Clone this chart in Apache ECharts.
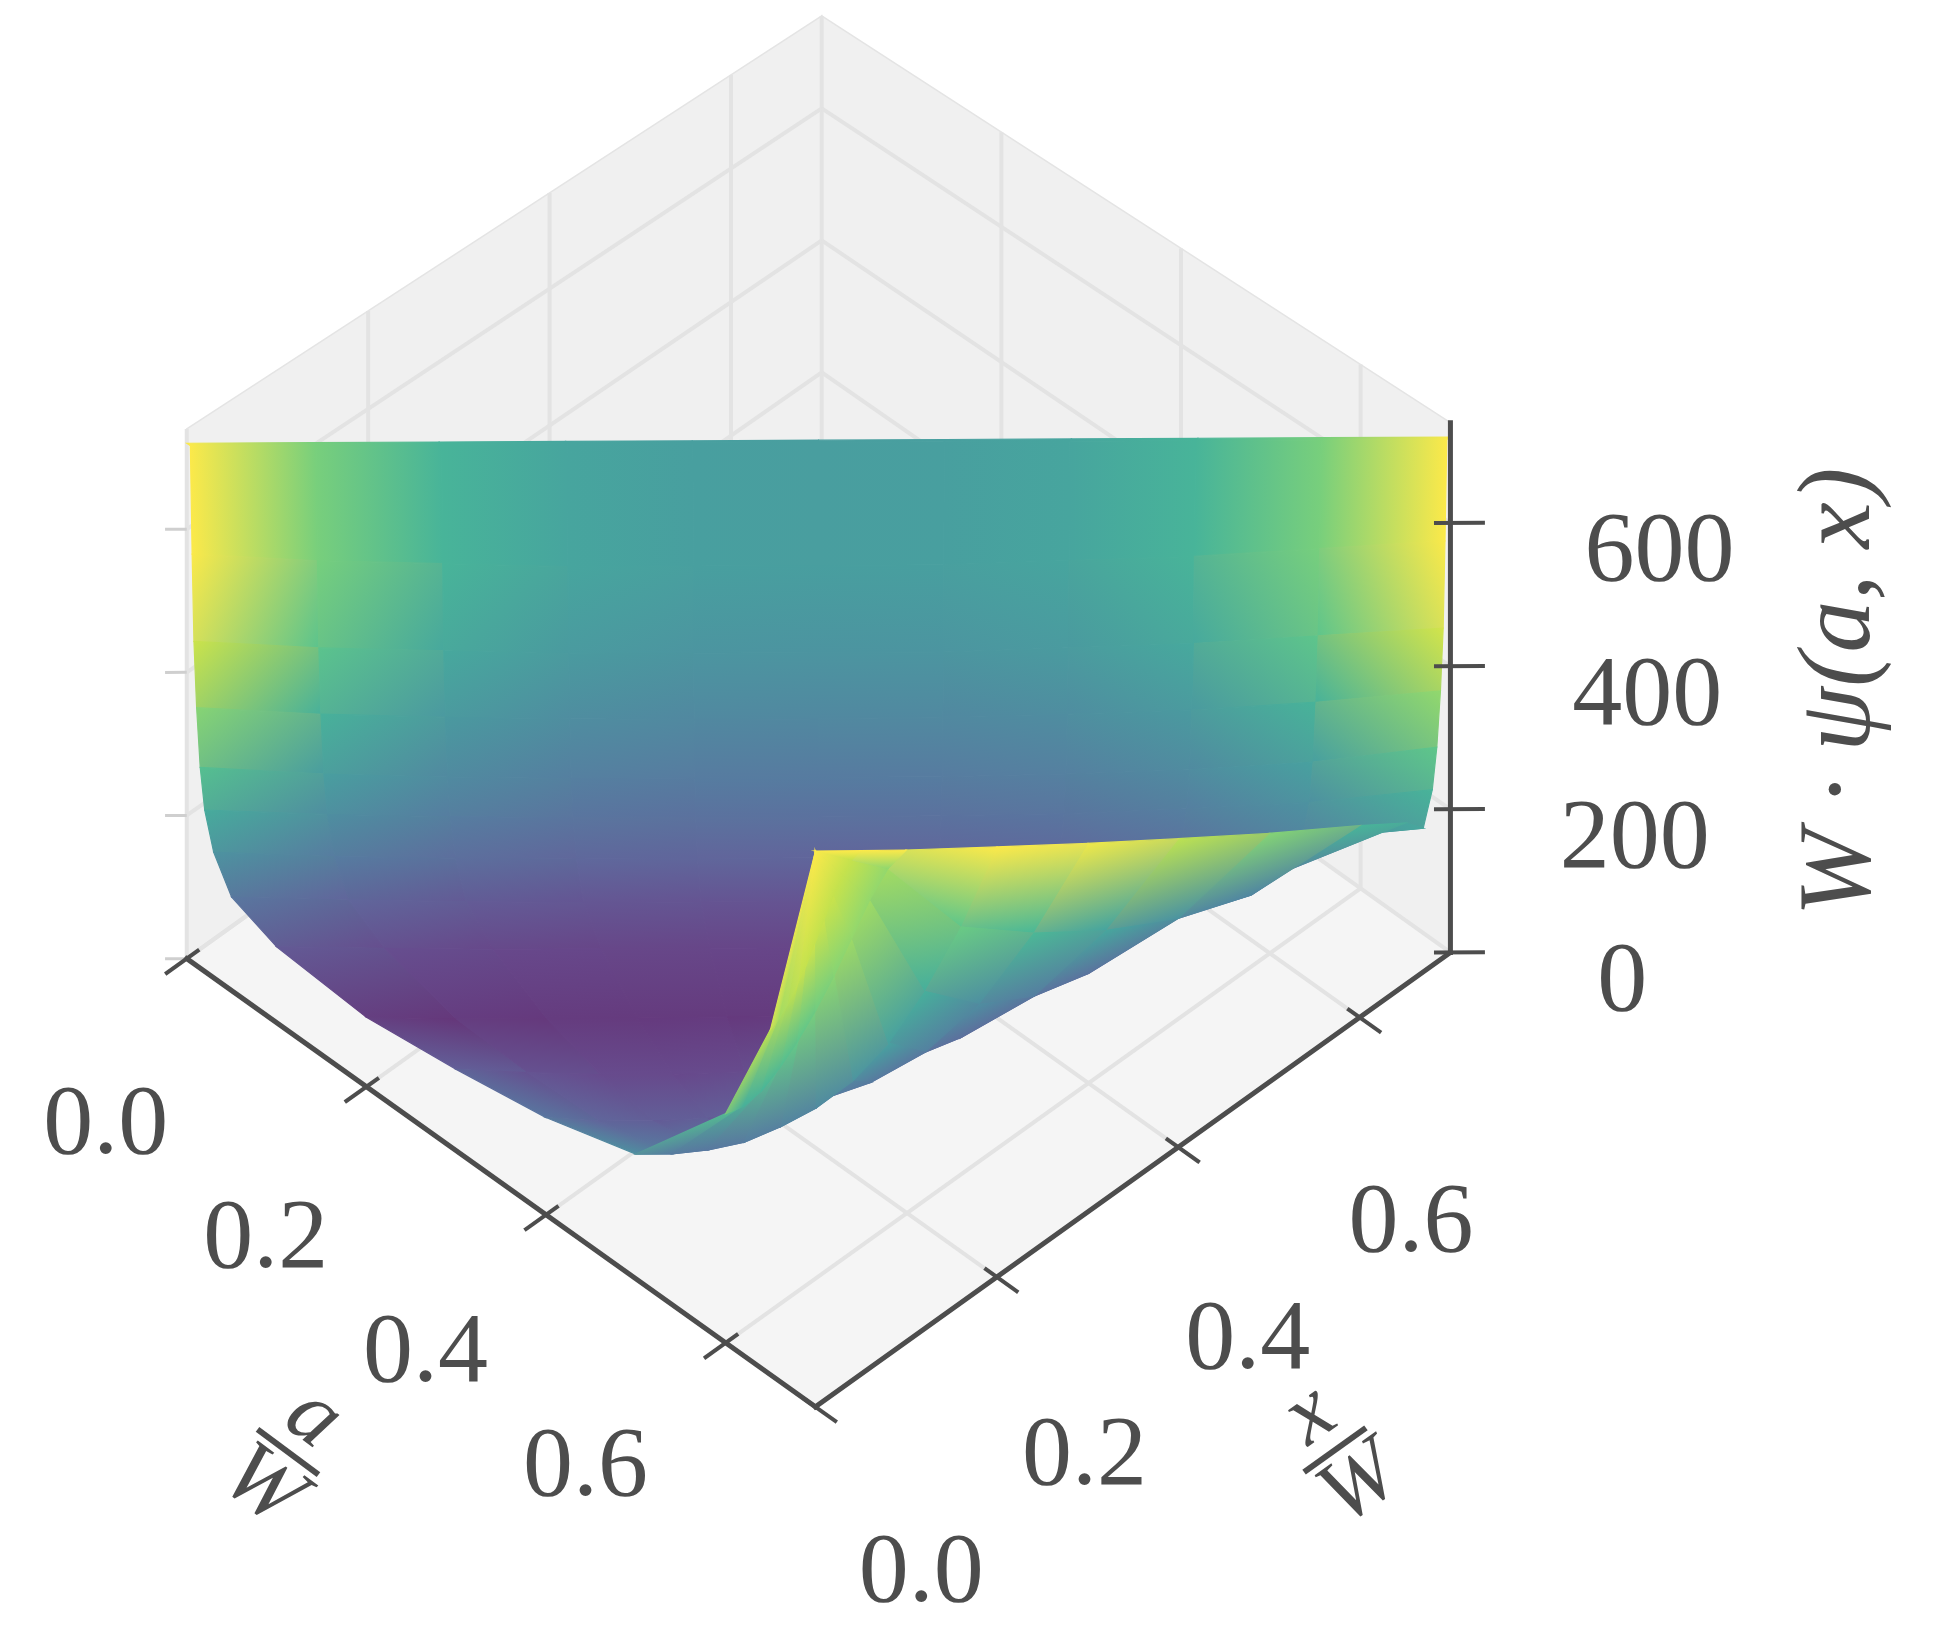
<!DOCTYPE html>
<html><head><meta charset="utf-8">
<script src="https://cdn.jsdelivr.net/npm/echarts@6/dist/echarts.min.js"></script>
<style>html,body{margin:0;padding:0;background:#fff}#c{width:1942px;height:1631px}</style>
</head><body><div id="c"></div>
<script>
// Surface sampled on a grid over the triangle x <= a:
// d = a - x (distance from the diagonal), u = position across (0: x=0 edge, 1: a=0.7 edge)
const dValues = [0, 0.004, 0.006, 0.008, 0.011, 0.015, 0.02, 0.03, 0.05, 0.1, 0.2, 0.3, 0.4, 0.5, 0.6, 0.65, 0.7];
const uValues = [0, 0.1, 0.2, 0.3, 0.4, 0.5, 0.6, 0.7, 0.8, 0.9, 1.0];
// W·ψ(a,x), rows follow dValues, columns follow uValues (clipped at the top)
const psi_d000 = [720,720,720,720,720,720,720,720,720,720,720];
const psi_d004 = [720,720,720,720,720,720,720,720,720,720,720];
const psi_d006 = [570,560,555,550,550,550,550,555,560,570,580];
const psi_d008 = [450,440,435,430,430,430,430,435,440,450,460];
const psi_d011 = [360,350,345,342,340,340,342,345,350,360,375];
const psi_d015 = [280,270,265,262,262,262,262,265,270,280,300];
const psi_d020 = [225,218,214,212,211,211,212,214,220,228,245];
const psi_d030 = [175,168,165,163,163,163,165,168,175,185,200];
const psi_d050 = [130,125,122,120,120,120,122,126,135,160,225];
const psi_d100 = [105,102,100,100,100,100,102,108,125,170,265];
const psi_d200 = [95,92,92,92,93,95,100,115,150,225,340];
const psi_d300 = [110,105,102,102,105,112,125,150,205,295,417];
const psi_d400 = [130,125,125,128,135,150,175,215,280,375,493];
const psi_d500 = [165,165,170,180,200,225,260,310,380,465,569];
const psi_d600 = [300,310,330,360,395,435,480,530,580,620,644];
const psi_d650 = [450,465,485,510,535,565,595,625,650,670,682];
const psi_d700 = [720,720,720,720,720,720,720,720,720,720,720];
const psiRows = [psi_d000,psi_d004,psi_d006,psi_d008,psi_d011,psi_d015,psi_d020,psi_d030,psi_d050,psi_d100,psi_d200,psi_d300,psi_d400,psi_d500,psi_d600,psi_d650,psi_d700];

const aTicks = [0.0,0.2,0.4,0.6];
const xTicks = [0.0,0.2,0.4,0.6];
const zTicks = [0,200,400,600];
const zTop = 740, aMax = 0.7, xMax = 0.7;

const S = 1.245;
function proj(a,x,z){
  const dn = ((0.7-a)+x)/1.4, k = 0.62-0.09*dn;
  return [(150+721.4*a+728.6*x)*S, (770+514.3*a-521.4*x-k*z)*S];
}
function ax(k,l){
  const d=dValues[k], m=d/2+uValues[l]*(aMax-d);
  return [m+d/2, m-d/2];
}
const vir = ['#440154','#482475','#414487','#355f8d','#2a788e','#21918c','#22a884','#44bf70','#7ad151','#bddf26','#fde725'];
function hex(c){return [parseInt(c.substr(1,2),16),parseInt(c.substr(3,2),16),parseInt(c.substr(5,2),16)];}
function viridis(t, alpha){
  t=Math.max(0,Math.min(1,t)); const f=t*10, i=Math.min(9,Math.floor(f)), r=f-i;
  const A=hex(vir[i]),B=hex(vir[i+1]);
  return 'rgb('+A.map((v,k)=>Math.round((v+(B[k]-v)*r)*alpha+244*(1-alpha))).join(',')+')';
}
function colorValue(z,u,d){
  const g = 0.45+0.55*Math.pow(Math.max(Math.abs(2*u-1), d/0.7),3);
  const f = Math.pow(Math.max(0,Math.min(1,(z-95)/420)),0.55);
  return 0.05+g*f*0.95;
}

const quads = [];
for(let k=0;k<dValues.length-1;k++){
  for(let l=0;l<uValues.length-1;l++){
    quads.push([[k,l],[k+1,l],[k+1,l+1],[k,l+1]]);
  }
}
function qDepth(t){let s=0;t.forEach(p=>{const q=ax(p[0],p[1]);s+=(0.7-q[0])+q[1];});return s;}
quads.sort((p,q)=>qDepth(q)-qDepth(p));

const axisColor = '#4d4d4d';
const FONT = '"Liberation Serif", "DejaVu Serif", serif';

function renderPanes(params, api){
  const c = (a,x,z)=>api.coord(proj(a,x,z));
  const poly = (pts,fill)=>({type:'polygon',shape:{points:pts},style:{fill:fill,stroke:'#e4e4e4',lineWidth:1.5}});
  const line = (p,q,col,w)=>({type:'line',shape:{x1:p[0],y1:p[1],x2:q[0],y2:q[1]},style:{stroke:col,lineWidth:w}});
  const ch = [];
  ch.push(poly([c(0,0,0),c(aMax,0,0),c(aMax,xMax,0),c(0,xMax,0)],'#f5f5f5'));
  ch.push(poly([c(0,0,0),c(0,xMax,0),c(0,xMax,zTop),c(0,0,zTop)],'#f0f0f0'));
  ch.push(poly([c(0,xMax,0),c(aMax,xMax,0),c(aMax,xMax,zTop),c(0,xMax,zTop)],'#f0f0f0'));
  const g='#e3e3e3', w=4;
  aTicks.forEach(a=>{ch.push(line(c(a,0,0),c(a,xMax,0),g,w)); ch.push(line(c(a,xMax,0),c(a,xMax,zTop),g,w));});
  xTicks.forEach(x=>{ch.push(line(c(0,x,0),c(aMax,x,0),g,w)); ch.push(line(c(0,x,0),c(0,x,zTop),g,w));});
  zTicks.forEach(z=>{ch.push(line(c(0,0,z),c(0,xMax,z),g,w)); ch.push(line(c(0,xMax,z),c(aMax,xMax,z),g,w));
    ch.push(line(c(0,0,z),c(-0.012,-0.012,z),'#cfcfcf',3));});
  return {type:'group',children:ch};
}

function renderQuad(params, api){
  const t = quads[params.dataIndex];
  const pts = [], cv = [];
  t.forEach(p=>{
    const q=ax(p[0],p[1]), z=psiRows[p[0]][p[1]];
    pts.push(api.coord(proj(q[0],q[1],z)));
    cv.push(colorValue(z,uValues[p[1]],dValues[p[0]]));
  });
  // least-squares colour plane over the 4 projected vertices
  let mx=0,my=0,mc=0; pts.forEach((p,i)=>{mx+=p[0];my+=p[1];mc+=cv[i];}); mx/=4;my/=4;mc/=4;
  let sxx=0,sxy=0,syy=0,sxc=0,syc=0;
  pts.forEach((p,i)=>{const dx=p[0]-mx,dy=p[1]-my,dc=cv[i]-mc;sxx+=dx*dx;sxy+=dx*dy;syy+=dy*dy;sxc+=dx*dc;syc+=dy*dc;});
  const det=sxx*syy-sxy*sxy;
  let fill;
  if(Math.abs(det)<1e-6){ fill=viridis(mc,0.82); }
  else{
    const bx=(sxc*syy-syc*sxy)/det, by=(syc*sxx-sxc*sxy)/det, n=Math.hypot(bx,by);
    if(n<1e-9){ fill=viridis(mc,0.82); }
    else{
      const ux=bx/n, uy=by/n; let tmin=1e9,tmax=-1e9;
      pts.forEach(p=>{const tt=(p[0]-mx)*ux+(p[1]-my)*uy; tmin=Math.min(tmin,tt); tmax=Math.max(tmax,tt);});
      const c0=mc+n*tmin, c1=mc+n*tmax;
      fill={type:'linear',global:true,x:mx+ux*tmin,y:my+uy*tmin,x2:mx+ux*tmax,y2:my+uy*tmax,
        colorStops:[{offset:0,color:viridis(c0,0.82)},{offset:1,color:viridis(c1,0.82)}]};
    }
  }
  return {type:'polygon',shape:{points:pts},style:{fill:fill,stroke:fill,lineWidth:1.2}};
}

function renderAxes(params, api){
  const c = (a,x,z)=>api.coord(proj(a,x,z));
  const line = (p,q,w)=>({type:'line',shape:{x1:p[0],y1:p[1],x2:q[0],y2:q[1]},style:{stroke:axisColor,lineWidth:w,lineCap:'square'}});
  const txt = (p,s,size)=>({type:'text',x:p[0],y:p[1],style:{text:s,font:size+'px '+FONT,fill:axisColor,align:'center',verticalAlign:'middle'}});
  const ch=[];
  ch.push(line(c(0,0,0),c(aMax,0,0),5));
  ch.push(line(c(aMax,0,0),c(aMax,xMax,0),5));
  ch.push(line(c(aMax,xMax,0),c(aMax,xMax,zTop),5));
  aTicks.forEach(a=>{
    ch.push(line(c(a,-0.022,0),c(a,0.012,0),4));
    ch.push(txt(c(a*0.89+0.0858,-0.1742,0),a.toFixed(1),100));
  });
  xTicks.forEach(x=>{
    ch.push(line(c(aMax+0.022,x,0),c(aMax-0.012,x,0),4));
    ch.push(txt(c(0.89,x*0.9-0.0715,0),x.toFixed(1),100));
  });
  zTicks.forEach(z=>{
    const p=c(aMax,xMax,z);
    ch.push(line(c(aMax-0.008,xMax-0.008,z),c(aMax+0.018,xMax+0.018,z),4));
    ch.push(txt([p[0]+(138+z*0.05)*S,p[1]+25*S],String(z),100));
  });
  const it = (s,x,y,size)=>({type:'text',x:x,y:y,style:{text:s,font:'italic '+size+'px '+FONT,fill:axisColor,align:'center',verticalAlign:'middle'}});
  const frac=(cx,cy,num,rot)=>({type:'group',x:cx,y:cy,rotation:rot,children:[
    it(num,0,-42,90),
    {type:'line',shape:{x1:-38,y1:0,x2:38,y2:0},style:{stroke:axisColor,lineWidth:6}},
    it('W',0,44,90)
  ]});
  ch.push(frac(288,1452,'a',-0.64));
  ch.push(frac(1335,1450,'x',0.62));
  ch.push(Object.assign(it('W · ψ(a, x)',1842,692,104),{rotation:Math.PI/2}));
  return {type:'group',children:ch};
}

const chart = echarts.init(document.getElementById('c'),null,{renderer:'canvas'});
chart.setOption({
  backgroundColor:'#ffffff',
  animation:false,
  grid:{left:0,right:0,top:0,bottom:0},
  xAxis:{type:'value',min:0,max:1942,show:false},
  yAxis:{type:'value',min:0,max:1631,inverse:true,show:false},
  series:[
    {type:'custom',renderItem:renderPanes,data:[0],silent:true,z:1},
    {type:'custom',renderItem:renderQuad,data:quads.map((t,i)=>i),silent:true,z:2},
    {type:'custom',renderItem:renderAxes,data:[0],silent:true,z:3}
  ]
});
</script></body></html>
